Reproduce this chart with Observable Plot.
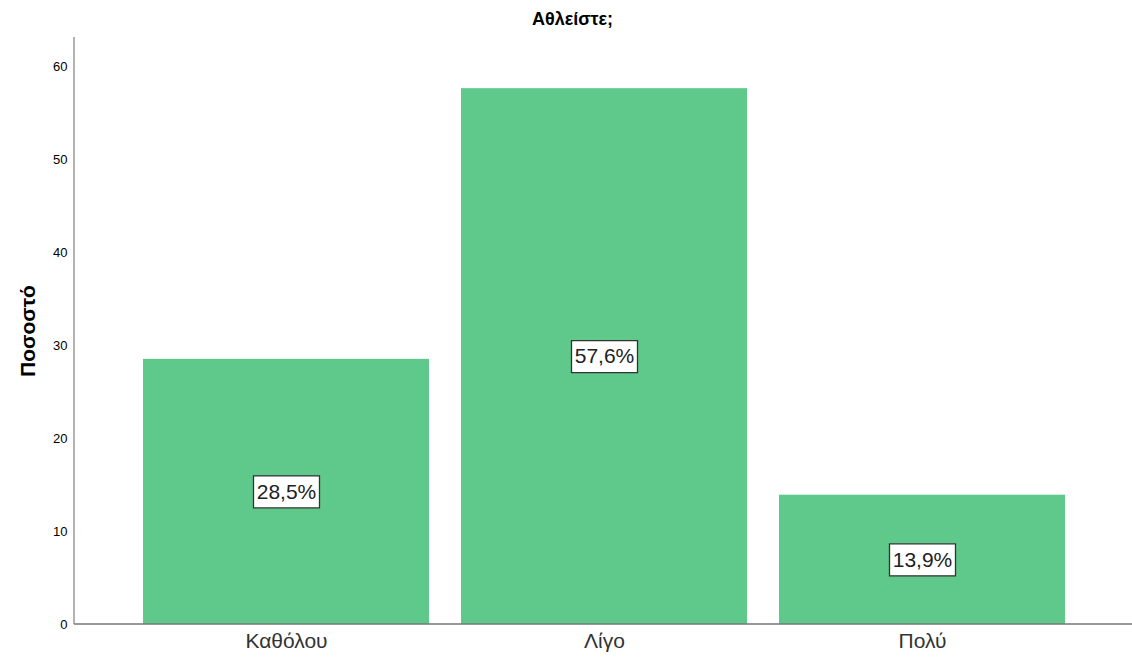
<!DOCTYPE html>
<html>
<head>
<meta charset="utf-8">
<script src="https://cdn.jsdelivr.net/npm/d3@7"></script>
<script src="https://cdn.jsdelivr.net/npm/@observablehq/plot@0.6"></script>
<style>
  body { margin: 0; background: #fff; }
  svg { font-family: "Liberation Sans", Arial, sans-serif; }
</style>
</head>
<body>
<div id="chart"></div>
<script>
const title = "Αθλείστε;";
const yLabel = "Ποσοστό";
const categories = ["Καθόλου", "Λίγο", "Πολύ"];
const percents = [28.5, 57.6, 13.9];
const labels = ["28,5%", "57,6%", "13,9%"];
const yTicks = [0, 10, 20, 30, 40, 50, 60];

const data = categories.map((c, i) => ({cat: c, value: percents[i], label: labels[i]}));

const boxSymbol = {
  draw(context) {
    context.rect(-33, -16, 66, 32);
  }
};

const chart = Plot.plot({
  width: 1132,
  height: 662,
  marginTop: 37,
  marginBottom: 38,
  marginLeft: 74,
  marginRight: 0,
  style: {fontFamily: "Liberation Sans, Arial, sans-serif", background: "#fff"},
  x: {domain: categories, range: [127, 1081], paddingInner: 0.1, paddingOuter: 0.05, axis: null},
  y: {domain: [0, 63.1], axis: null},
  marks: [
    Plot.barY(data, {x: "cat", y: "value", fill: "#5ec98a"}),
    Plot.axisY({ticks: yTicks, tickSize: 0, tickPadding: 7, fontSize: 13, color: "#000",
      label: yLabel, labelAnchor: "center", labelArrow: false, labelOffset: 54}),
    Plot.axisX({tickSize: 0, tickPadding: 9, fontSize: 21, color: "#333", label: null}),
    Plot.dot(data, {x: "cat", y: d => d.value / 2, symbol: boxSymbol, r: 1, fill: "white", stroke: "#333", strokeWidth: 1.3}),
    Plot.text(data, {x: "cat", y: d => d.value / 2, text: "label", fontSize: 21, fill: "#222"}),
    Plot.text([title], {frameAnchor: "top", dx: -31, dy: -13, lineAnchor: "bottom", fontSize: 18, fontWeight: "bold", fill: "#000"})
  ]
});

// Axis lines in SPSS style
const svg = d3.select(chart);
svg.append("line").attr("x1", 74).attr("x2", 74).attr("y1", 37).attr("y2", 624)
  .attr("stroke", "#999").attr("stroke-width", 1.5);
svg.append("line").attr("x1", 74).attr("x2", 1132).attr("y1", 624).attr("y2", 624)
  .attr("stroke", "#777").attr("stroke-width", 1.5);
// y-axis label styling
svg.selectAll("g[aria-label='y-axis label'] text").attr("font-size", 21).attr("font-weight", "bold").attr("fill", "#000");

document.getElementById("chart").appendChild(chart);
</script>
</body>
</html>
